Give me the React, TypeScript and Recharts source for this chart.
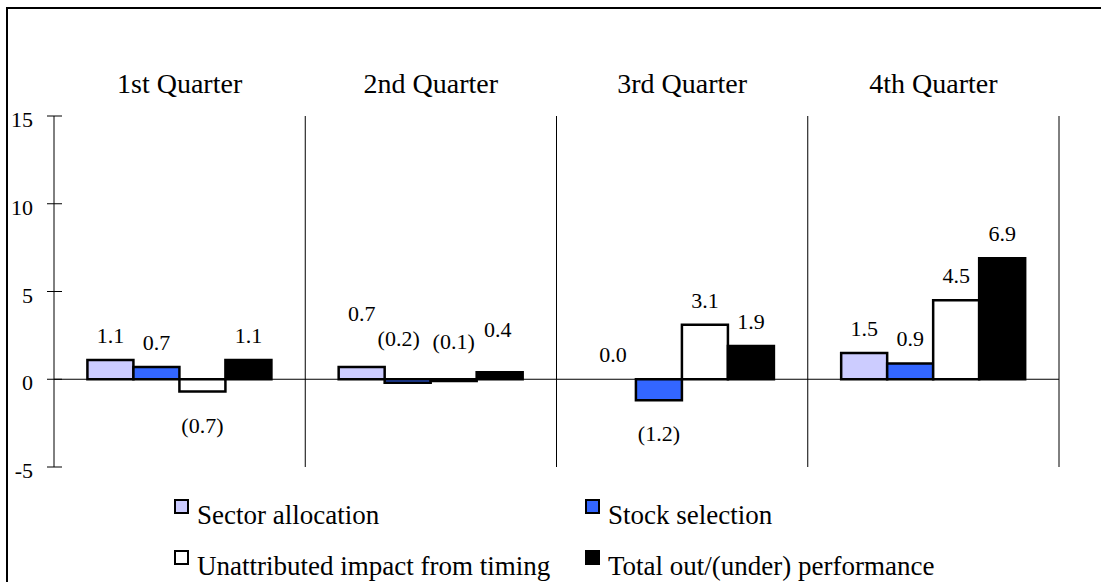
import { BarChart, Bar, XAxis, YAxis, CartesianGrid, ReferenceLine, Rectangle } from 'recharts'

const quarters = ['1st Quarter', '2nd Quarter', '3rd Quarter', '4th Quarter']
const sectorAllocation = [1.1, 0.7, 0.0, 1.5]
const stockSelection = [0.7, -0.2, -1.2, 0.9]
const timingImpact = [-0.7, -0.1, 3.1, 4.5]
const totalPerformance = [1.1, 0.4, 1.9, 6.9]
const yTicks = [-5, 0, 5, 10, 15]

const FONT = 'Liberation Serif, DejaVu Serif, Noto Serif, FreeSerif, Tinos, Times New Roman, serif'

const SERIES = [
  { key: 'sector', name: 'Sector allocation', fill: '#ccccff' },
  { key: 'stock', name: 'Stock selection', fill: '#3366ff' },
  { key: 'timing', name: 'Unattributed impact from timing', fill: '#ffffff' },
  { key: 'total', name: 'Total out/(under) performance', fill: '#000000' },
]

const chartData = quarters.map((quarter, i) => ({
  quarter,
  sector: sectorAllocation[i],
  stock: stockSelection[i],
  timing: timingImpact[i],
  total: totalPerformance[i],
}))

// hand-placed labels in the crowded 2nd quarter
const labelNudge: Record<string, { dx: number; dy: number }> = {
  'sector:1': { dx: 0, dy: -29 },
  'stock:1': { dx: -9, dy: -78 },
  'timing:1': { dx: 0, dy: -73 },
  'total:1': { dx: -2, dy: -18 },
}

const fmt = (v: number) => (v < 0 ? `(${Math.abs(v).toFixed(1)})` : v.toFixed(1))

// bar plus its value label; drawn together so zero-height bars still get a label
function barWithLabel(seriesKey: string) {
  return (props: any) => {
    const { x, y, width, height, index } = props
    const value = (chartData[index] as any)[seriesKey] as number
    const top = Math.min(y, y + height)
    const bottom = Math.max(y, y + height)
    const nudge = labelNudge[`${seriesKey}:${index}`] || { dx: 0, dy: 0 }
    const baseY = value < 0 ? bottom + 41 : top - 17
    return (
      <g>
        {height !== 0 && <Rectangle {...props} />}
        <text
          x={x + width / 2 + nudge.dx}
          y={baseY + nudge.dy}
          textAnchor="middle"
          fontSize={22}
          fontFamily={FONT}
          fill="#000"
        >
          {fmt(value)}
        </text>
      </g>
    )
  }
}

function YTick(props: any) {
  const { x, y, payload } = props
  return (
    <g>
      <line x1={x + 14} x2={x + 29} y1={y} y2={y} stroke="#000" />
      <text x={x} y={y + 11} textAnchor="end" fontSize={22} fontFamily={FONT} fill="#000">
        {payload.value}
      </text>
    </g>
  )
}

function Legend() {
  return (
    <div style={{ position: 'absolute', left: 0, top: 0, fontFamily: FONT, fontSize: 27, color: '#000' }}>
      {SERIES.map((s, i) => {
        const col = i % 2
        const row = Math.floor(i / 2)
        const left = col === 0 ? 174 : 585
        const top = row === 0 ? 499 : 550
        return (
          <div key={s.key}>
            <div
              style={{
                position: 'absolute',
                left,
                top,
                width: 11,
                height: 11,
                background: s.fill,
                border: '2.5px solid #000',
              }}
            />
            <div style={{ position: 'absolute', left: left + 23, top: top + 1, whiteSpace: 'nowrap', lineHeight: '30px' }}>
              {s.name}
            </div>
          </div>
        )
      })}
    </div>
  )
}

export default function App() {
  return (
    <div style={{ position: 'absolute', left: 0, top: 0, width: 1101, height: 582, background: '#fff', overflow: 'hidden' }}>
      <div
        style={{
          position: 'absolute',
          left: 6,
          top: 7,
          width: 1200,
          height: 700,
          borderTop: '2px solid #000',
          borderLeft: '2px solid #000',
        }}
      />
      <BarChart
        width={1101}
        height={582}
        data={chartData}
        margin={{ top: 86, right: 42, bottom: 115, left: 0 }}
        barGap={0}
        barCategoryGap="13.3%"
        style={{ position: 'absolute', left: 0, top: 0 }}
      >
        <CartesianGrid
          horizontal={false}
          stroke="#000"
          verticalCoordinatesGenerator={({ offset }: any) =>
            quarters.map((_, i) => offset.left + ((i + 1) * offset.width) / quarters.length)
          }
        />
        <XAxis
          dataKey="quarter"
          orientation="top"
          axisLine={false}
          tickLine={false}
          tickSize={0}
          tickMargin={23}
          height={30}
          tick={{ fontSize: 28, fontFamily: FONT, fill: '#000' }}
        />
        <YAxis
          domain={[-5, 15]}
          ticks={yTicks}
          width={54}
          tickLine={false}
          tickSize={0}
          tickMargin={21}
          axisLine={{ stroke: '#000' }}
          tick={<YTick />}
          allowDataOverflow
        />
        <ReferenceLine y={0} stroke="#000" />
        {SERIES.map((s) => (
          <Bar
            key={s.key}
            dataKey={s.key}
            name={s.name}
            fill={s.fill}
            stroke="#000"
            strokeWidth={2.5}
            isAnimationActive={false}
            shape={barWithLabel(s.key)}
          />
        ))}
      </BarChart>
      <Legend />
    </div>
  )
}
